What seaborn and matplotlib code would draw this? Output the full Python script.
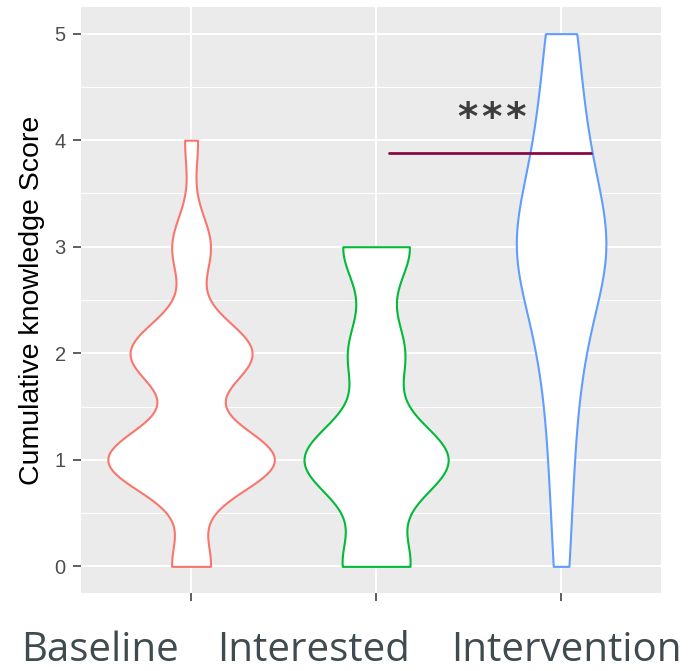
import numpy as np
import pandas as pd
import matplotlib
matplotlib.use("Agg")
import matplotlib.pyplot as plt
import seaborn as sns
from matplotlib.ticker import MultipleLocator

# ---- data (counts of each score) ----
groups = ["Baseline", "Interested", "Intervention"]
scores = [0, 1, 2, 3, 4, 5]
baseline_counts = [6, 26, 19, 6, 2, 0]
interested_counts = [6, 13, 5, 6, 0, 0]
intervention_counts = [2, 3, 5, 13, 6, 4]
colors = ["#F8766D", "#00BA38", "#619CFF"]
y_label = "Cumulative knowledge Score"
y_ticks = [0, 1, 2, 3, 4, 5]
sig_text = "*\u200a*\u200a*"
sig_level = 3.88
sig_span = [1.07, 2.16]

rows = []
for g, counts in zip(groups, [baseline_counts, interested_counts, intervention_counts]):
    for s, c in zip(scores, counts):
        rows += [(g, s)] * c
df = pd.DataFrame(rows, columns=["group", "score"])


def nrd0(kde):
    """R's bw.nrd0 rule, expressed as a factor of the sample std."""
    x = np.asarray(kde.dataset).ravel()
    sd = x.std(ddof=1)
    q75, q25 = np.percentile(x, [75, 25])
    lo = min(sd, (q75 - q25) / 1.34)
    h = 0.9 * lo * x.size ** -0.2
    return h / sd


sns.set_theme(style="darkgrid")
plt.rcParams["font.family"] = ["Liberation Sans", "DejaVu Sans"]

W, H = 692, 671
fig = plt.figure(figsize=(W / 100, H / 100), dpi=100)
ax = fig.add_axes([81 / W, 78 / H, 580 / W, 586 / H])
ax.set_facecolor("#EBEBEB")

sns.violinplot(data=df, x="group", y="score", hue="group", order=groups,
               hue_order=groups, palette=colors, inner=None, cut=0,
               density_norm="area", common_norm=True, width=0.9,
               bw_method=nrd0, gridsize=512, linewidth=1.5, dodge=False,
               legend=False, ax=ax)

for coll in ax.collections:
    verts = np.concatenate([p.vertices for p in coll.get_paths()])
    idx = int(round(verts[:, 0].mean()))
    coll.set_facecolor("white")
    coll.set_edgecolor(colors[idx])
    coll.set_linewidth(1.5)
    coll.set_zorder(3)

ax.set_xlim(-0.595, 2.54)
ax.set_ylim(-0.25, 5.25)
ax.set_yticks(y_ticks)
ax.yaxis.set_minor_locator(MultipleLocator(0.5))
ax.set_axisbelow(True)
ax.grid(False)
ax.grid(which="major", color="white", linewidth=1.5)
ax.grid(which="minor", axis="y", color="white", linewidth=0.75)
for sp in ax.spines.values():
    sp.set_visible(False)

ax.tick_params(axis="y", which="major", length=6, width=1.1, color="#333333",
               labelsize=14.5, labelcolor="#4D4D4D", pad=5, left=True)
ax.tick_params(axis="y", which="minor", length=0)
ax.tick_params(axis="x", length=6, width=1.1, color="#333333",
               labelbottom=False, bottom=True)
ax.set_xlabel("")
ax.set_ylabel(y_label, fontsize=20.5, color="black", va="center")
ax.yaxis.set_label_coords(-0.084, 0.5)

# significance bar
ax.plot(sig_span, [sig_level, sig_level], color="#870A45", linewidth=2, zorder=4)
ax.text(1.63, 4.1, sig_text, ha="center", va="baseline", fontsize=28,
        family="DejaVu Sans", weight="bold", color="#3d3d3d", zorder=5)

# category labels (placed under the panel)
label_px = [100, 314, 566]
for name, px in zip(groups, label_px):
    fig.text(px / W, (H - 661) / H, name, ha="center", va="baseline",
             fontsize=29, family="Open Sans", color="#404b50")

fig.savefig("out.png", dpi=100)
